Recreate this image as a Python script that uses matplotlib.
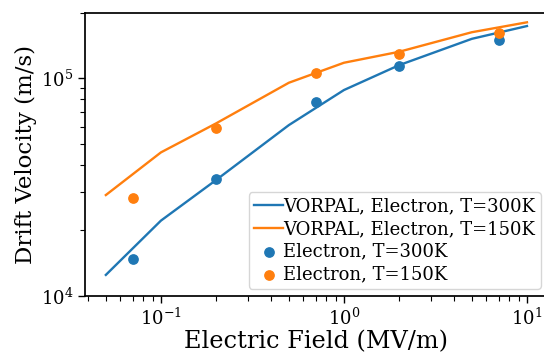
import numpy as np
import matplotlib
matplotlib.use('Agg')
import matplotlib.pyplot as plt

'''
Data
'''
# VORPAL simulation curves
field_sim = [0.05, 0.1, 0.2, 0.5, 1.0, 2.0, 5.0, 10.0]
vel_sim_300 = [1.25e4, 2.22e4, 3.41e4, 6.1e4, 8.84e4, 1.15e5, 1.52e5, 1.74e5]
vel_sim_150 = [2.91e4, 4.57e4, 6.21e4, 9.55e4, 1.18e5, 1.325e5, 1.63e5, 1.81e5]

# measured points
field_exp = [0.07, 0.2, 0.7, 2.0, 7.0]
vel_exp_300 = [1.474e4, 3.45e4, 7.76e4, 1.139e5, 1.50e5]
vel_exp_150 = [2.82e4, 5.93e4, 1.058e5, 1.30e5, 1.61e5]

'''
Plot
'''
plt.rcParams['font.family'] = 'DejaVu Serif'
plt.rcParams['mathtext.fontset'] = 'dejavuserif'

fig = plt.figure(figsize=(5.44, 3.53), dpi=100)
ax = fig.add_axes([0.156, 0.1615, 0.851, 0.802])

ax.plot(field_sim, vel_sim_300, color='#1f77b4', lw=1.7, label='VORPAL, Electron, T=300K')
ax.plot(field_sim, vel_sim_150, color='#ff7f0e', lw=1.7, label='VORPAL, Electron, T=150K')
ax.scatter(field_exp, vel_exp_300, color='#1f77b4', s=45, zorder=3, label='Electron, T=300K')
ax.scatter(field_exp, vel_exp_150, color='#ff7f0e', s=45, zorder=3, label='Electron, T=150K')

ax.set_xscale('log')
ax.set_yscale('log')
ax.set_xlim(0.0384, 13.0)
ax.set_ylim(1e4, 2e5)

ax.set_xlabel('Electric Field (MV/m)', fontsize=17.3, labelpad=1)
ax.set_ylabel('Drift Velocity (m/s)', fontsize=16.5, labelpad=3)
ax.tick_params(axis='both', which='major', labelsize=13, length=4.8, width=1.0)
ax.tick_params(axis='both', which='minor', length=3.5, width=0.8)
for sp in ax.spines.values():
    sp.set_linewidth(1.25)

ax.legend(loc='lower right', fontsize=13, handlelength=1.6, handletextpad=0.0,
          borderpad=0.3, labelspacing=0.25, borderaxespad=0.4)

fig.savefig('out.png', dpi=100)
